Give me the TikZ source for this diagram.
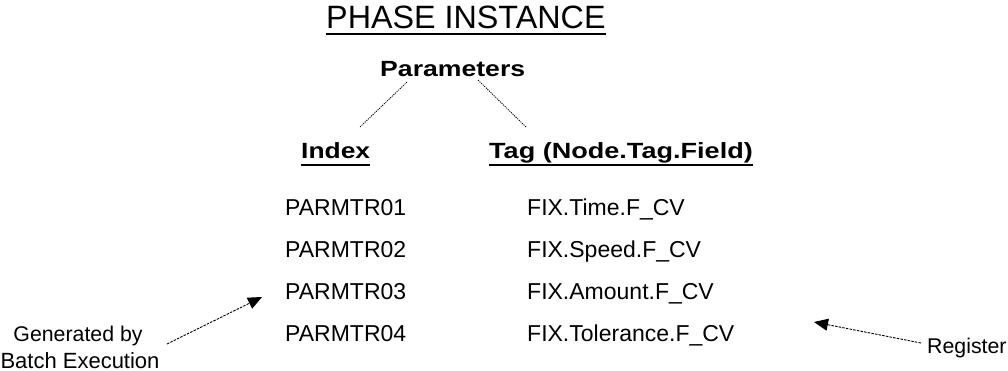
\documentclass[tikz,border=0pt]{standalone}
\usepackage{fontspec}
\setmainfont{Liberation Sans}
\usetikzlibrary{arrows.meta}
\tikzset{
  txt/.style={anchor=base west, inner sep=0pt, font=\fontsize{23}{27}\selectfont},
  lbl/.style={anchor=base, inner sep=0pt, font=\fontsize{21.3}{25}\selectfont},
  hdr/.style={anchor=base west, inner sep=0pt, font=\bfseries\fontsize{22}{26}\selectfont},
  pline/.style={line width=0.8pt, dash pattern=on 1.2pt off 1pt},
  aline/.style={line width=0.9pt, dash pattern=on 2.5pt off 1.2pt, -{Triangle[length=14pt,width=12pt]}},
  uline/.style={line width=2pt},
}
\begin{document}
\begin{tikzpicture}[x=1pt,y=-1pt]
\useasboundingbox (0,0) rectangle (1008,371);
% title
\node[txt, font=\fontsize{32.3}{38}\selectfont] (title) at (326,29) {PHASE INSTANCE};
\draw[line width=2.6pt] ([yshift=-5pt]title.base west) -- ([yshift=-5pt]title.base east);
% headers
\node[hdr] (params) at (380,77) {\scalebox{1.21}[1]{Parameters}};
\node[hdr] (index) at (301,159) {\scalebox{1.2}[1]{Index}};
\node[hdr] (tag) at (489,159) {\scalebox{1.23}[1]{Tag (Node.Tag.Field)}};
\draw[uline] ([yshift=-6pt]index.base west) -- ([yshift=-6pt]index.base east);
\draw[uline] ([yshift=-6pt]tag.base west) -- ([yshift=-6pt]tag.base east);
% parameter connectors
\coordinate (pa) at (407,82);
\coordinate (pb) at (478,80);
\coordinate (ia) at (360,127);
\coordinate (ta) at (526,127);
\draw[pline] (pa) -- (ia);
\draw[pline] (pb) -- (ta);
% rows
\node[txt] (i1) at (285,215) {PARMTR01};
\node[txt] (i2) at (285,257) {PARMTR02};
\node[txt] (i3) at (285,299) {PARMTR03};
\node[txt] (i4) at (285,341) {PARMTR04};
\node[txt] (t1) at (527,215) {FIX.Time.F\_CV};
\node[txt] (t2) at (527,257) {FIX.Speed.F\_CV};
\node[txt] (t3) at (527,299) {FIX.Amount.F\_CV};
\node[txt] (t4) at (527,341) {FIX.Tolerance.F\_CV};
% side labels
\node[lbl] (gen1) at (78,341) {Generated by};
\node[lbl, font=\fontsize{22}{26}\selectfont] (gen2) at (80,368) {Batch Execution};
\node[lbl, anchor=base west] (reg) at (927,353) {Register};
\coordinate (gstart) at (167,344);
\coordinate (gtip) at (262,297);
\coordinate (rstart) at (921,343);
\coordinate (rtip) at (814,322);
\draw[aline] (gstart) -- (gtip);
\draw[aline] (rstart) -- (rtip);
\end{tikzpicture}
\end{document}
